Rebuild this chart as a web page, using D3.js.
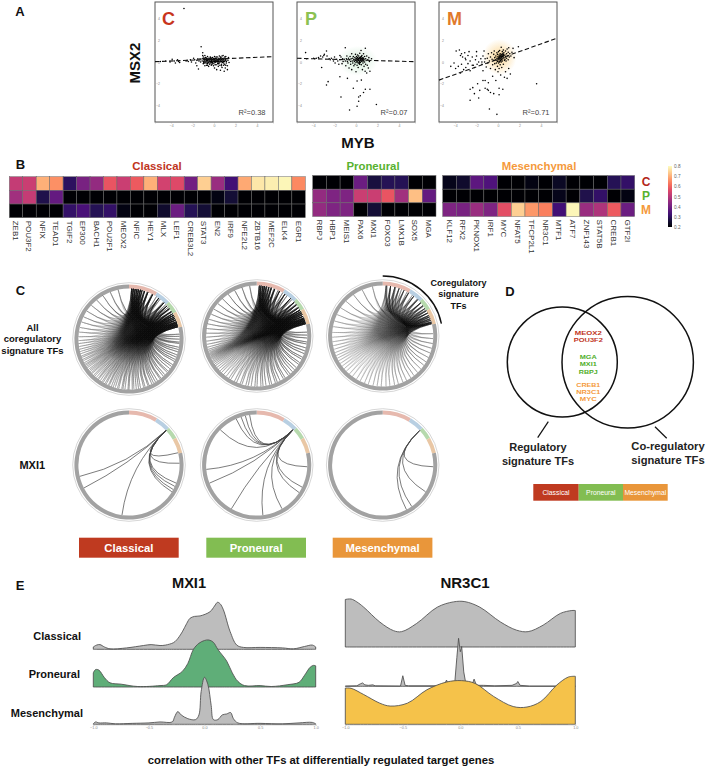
<!DOCTYPE html>
<html><head><meta charset="utf-8">
<style>html,body{margin:0;padding:0;background:#fff}svg{display:block;font-family:"Liberation Sans",Arial,sans-serif}</style>
<script src="https://cdn.jsdelivr.net/npm/d3@7/dist/d3.min.js"></script>
</head><body><div id="c"></div>
<script>
// ---------- Panel A data ----------
const cPoints=[[-2.8,4.9],[-5,.05],[-4.5,.1],[-4.1,.0],[-3.9,.25],[-3.7,.1],[-3.6,-.1],[-3.4,.2],[-3.3,.05],[-3.2,-.05],[-2.6,.1],[-2.5,.15],[-2.4,.05],[-2.2,.2],[-2.1,0],[-1.9,.35],[-1.8,.2],[-1.7,-.1],[-1.6,.15],[-1.6,-.35],[-1.5,.3],[-1.45,-.65],[-1.4,.1],[-1.3,.3],[-1.25,.0],[-1.2,1.4],[-1.05,.85],[-1.05,.6],[-1.1,.3],[-1.1,.1],[-1,-.15],[-1,.45],[-.95,.2],[-.95,-.05],[-.9,.35],[-.9,.1],[-.85,-.35],[-.85,.6],[-.8,.25],[-.8,0],[-.75,-.1],[-.75,.4],[-.7,.15],[-.7,-.3],[-.65,.3],[-.65,.05],[-.6,-.15],[-.6,.5],[-.55,.2],[-.5,0],[-.5,-.4],[-.45,.35],[-.45,.1],[-.4,-.2],[-.4,.25],[-.35,.05],[-.35,.45],[-.3,-.1],[-.3,.2],[-.25,.3],[-.25,-.3],[-.2,.1],[-.2,-.05],[-.15,.4],[-.15,.2],[-.1,-.15],[-.1,.05],[-.05,.3],[-.05,-.35],[0,.1],[0,.25],[0,-.1],[.05,.5],[.05,-.55],[.1,.15],[.1,-.05],[.15,.35],[.15,0],[.2,-.25],[.2,.2],[.25,.1],[.25,-.7],[.3,.45],[.3,0],[.35,-.15],[.35,.25],[.4,.05],[.4,-.4],[.45,.35],[.45,.15],[.5,-.1],[.5,.55],[.55,.2],[.55,-.3],[.6,.1],[.6,-.75],[.65,.4],[.65,0],[.7,.25],[.7,-.2],[.75,.55],[.75,-.5],[.8,.1],[.8,-.05],[.85,.35],[.85,.6],[.9,-.3],[.9,.2],[.95,.05],[.95,-.85],[1,.45],[1,-.2],[1.05,.2],[1.05,-.55],[1.1,.5],[1.15,.05],[1.15,-.1],[1.2,.3],[1.25,-.35],[1.25,-.7],[1.3,.15],[1.35,.4],[1.4,-.05],[-1,.3],[-.95,.05],[-.9,-.1],[-.85,.2],[-.8,.4],[-.75,.1],[-.7,.3],[-.65,-.1],[-.6,.15],[-.55,.35],[-.55,-.05],[-.5,.2],[-.45,-.1],[-.4,.1],[-.35,.3],[-.3,0],[-.25,.15],[-.25,.05],[-.2,.25],[-.15,-.05],[-.1,.2],[-.05,.1],[0,.35],[.05,.2],[.05,.05],[.1,.3],[.15,.1],[.2,.05],[.25,.3],[.3,.15],[.35,.05],[.4,.2],[.45,0],[.5,.25],[.55,.05],[.6,.3],[.65,.15],[.7,.05],[.75,.2],[.8,.3],[.85,.1],[.9,.05],[.95,.3],[1,.1],[1.05,.35],[1.1,.15],[-.2,-.2],[.1,-.25],[.4,-.15],[.7,-.35],[.9,-.1],[1.1,-.3],[-.6,-.3],[-.3,.4],[.2,.45],[.6,.45]];
const pPoints=[[-4.7,.86],[-4.6,.3],[-3.95,.35],[-3.85,.3],[-3.7,.35],[-3.5,.4],[-3.3,.55],[-3.2,-.5],[-3.1,.45],[-3,.6],[-2.95,.7],[-2.75,1],[-2.7,.55],[-2.5,.3],[-2.4,.2],[-2.3,.35],[-2.1,.1],[-2,.45],[-1.95,-.1],[-1.8,.25],[-1.7,.1],[-1.6,-.2],[-1.5,.6],[-1.5,.2],[-1.4,.45],[-1.3,-.15],[-1.25,.3],[-1.2,.05],[-1.1,.25],[-1,1.3],[-1,.1],[-.95,-.35],[-.9,.3],[-.85,.55],[-.8,.05],[-.75,-.1],[-.7,.35],[-.65,-.55],[-.6,.2],[-.55,.5],[-.5,.05],[-.5,-.2],[-.45,.3],[-.4,.75],[-.4,-.7],[-.35,.1],[-.3,.35],[-.3,-.1],[-.25,.5],[-.2,.2],[-.2,-.35],[-.15,.05],[-.1,.4],[-.1,-.2],[-.05,.7],[-.05,.15],[0,.3],[0,-.05],[0,-.9],[.05,.5],[.05,.1],[.1,.25],[.1,-.3],[.15,.65],[.15,0],[.2,.35],[.2,-.5],[.25,.15],[.25,.55],[.3,-.15],[.3,.3],[.35,.05],[.35,.8],[.4,.25],[.4,-.05],[.45,.45],[.45,.15],[.47,1.05],[.5,-.25],[.5,.35],[.55,.05],[.55,.6],[.6,.2],[.6,-.7],[.65,.4],[.65,-.1],[.7,.1],[.7,.75],[.75,-.4],[.75,.25],[.8,.5],[.8,0],[.87,1.26],[.85,-.85],[.9,.3],[.9,-.2],[.95,.15],[1,.55],[1,-1],[1.05,-.3],[1.1,.2],[1.15,-.55],[1.2,.4],[1.25,.05],[1.3,-.85],[1.45,.3],[-2.6,-1.8],[-2.75,-2.1],[-1.5,-1.35],[-.8,-1.5],[.1,-1.75],[.5,-1.66],[-.25,-2.4],[1.3,-2.5],[.87,-2.5],[.7,-2.8],[.4,-3.1],[.25,-3.2],[-1.4,-3.2],[.25,-3.6],[1.9,-3.9],[.1,-4.05],[-.6,-4.4],[.1,.1],[.2,.2],[.3,.1],[.25,.3],[.35,.4],[.4,.15],[.45,.3],[.5,.1],[.55,.25],[.6,.35],[.65,.15],[.7,.3],[.15,.4],[.2,-.1],[.3,-.05],[.4,.4],[.5,.5],[.35,-.2],[.15,.2],[.05,.35]];
const mPoints=[[3.6,-2],[-.1,-4.8],[-.8,-4.3],[-2.6,-3.5],[-1.8,-3.3],[-2.6,-2.5],[-2.35,-2.35],[-2.2,-2.9],[-1.9,-2],[-1.7,-2.6],[-1.4,-1.7],[-1.2,-1.7],[-1.2,-2.4],[-1,-2.5],[-.9,-2.6],[-.9,-1.9],[-.7,-2.8],[-.5,-1.3],[-.4,-2.9],[-.2,-1.7],[.1,-2.4],[.45,-2.5],[.1,-3],[-1.4,-.8],[-3.9,1],[-3.6,1.1],[-3.5,.6],[-3.4,.75],[-3.3,.45],[-3.1,.85],[-3,.2],[-2.8,.6],[-2.7,.95],[-2.6,.1],[-2.4,.45],[-2.3,-.3],[-2.1,.2],[-2,.55],[-1.95,-.2],[-1.8,0],[-1.6,.3],[-1.5,-.2],[-1.4,.55],[-1.3,1],[-1.25,0],[-1.2,.3],[-1.1,-.45],[-1,.35],[-.95,-.1],[-.9,.75],[-.8,.1],[-.7,.45],[-.7,-.6],[-.6,.85],[-.55,.25],[-.5,-.25],[-4.4,-.4],[-4.1,-.1],[-3.95,-.6],[-3.7,-.4],[-3.5,-1],[-3.4,-.2],[-3.2,-.7],[-3,-.5],[-2.8,-.15],[-2.6,-.8],[-2.4,-.3],[-2.2,-.5],[-.4,.7],[-.4,.15],[-.35,1],[-.3,.4],[-.3,-.15],[-.25,-.7],[-.2,.55],[-.2,.2],[-.15,-.1],[-.1,.85],[-.1,.35],[-.05,.05],[-.05,.7],[-.05,-.4],[0,.5],[0,.2],[0,-.9],[.05,.95],[.05,.35],[.05,-.1],[.1,.65],[.1,.2],[.1,-.6],[.15,.45],[.15,0],[.15,1.05],[.2,.3],[.2,.75],[.2,-.25],[.25,.55],[.25,.15],[.25,-1.2],[.3,1.35],[.3,.4],[.3,.0],[.35,.7],[.35,.25],[.35,-.5],[.4,.95],[.4,.5],[.4,.1],[.45,.75],[.45,.3],[.5,1.1],[.5,.55],[.5,-.2],[.55,.4],[.55,.85],[.6,.15],[.6,-1.4],[.65,.65],[.65,.25],[.7,1],[.7,.45],[.7,-.9],[.75,.1],[.8,.75],[.8,.35],[.85,1.2],[.85,-1.5],[.9,.55],[.95,.9],[.95,.2],[1,1.3],[1,-.6],[1.05,.45],[1.1,.75],[1.15,-1.1],[1.2,.55],[1.3,.9],[1.4,1.25],[1.5,.4],[1.9,1.4],[-1.5,.0],[-2,.95],[-3.05,.35],[.1,.4],[.15,.55],[.2,.45],[.25,.65],[.3,.55],[.35,.5],[.4,.65],[.45,.55],[.5,.7],[.55,.6],[.2,.1],[.3,.2],[0,.35],[.1,.05],[-.1,.15]];
const rSquared=["R²=0.38","R²=0.07","R²=0.71"];
const cLine=[[-5.5,.03],[5.5,.49]],pLine=[[-5.5,.34],[5.5,.03]],mLine=[[-5.5,-1.66],[5.5,2.18]];
// ---------- Panel B data ----------
const classicalTFs=["ZEB1","POU3F2","NFIX","TEAD1","TGIF2","EP300","BACH1","POU2F1","MEOX2","NFIC","HEY1","MLX","LEF1","CREB3L2","STAT3","EN2","IRF9","NFE2L2","ZBTB16","MEF2C","ELK4","EGR1"];
const classicalC=[.52,.53,.7,.66,.3,.41,.45,.58,.53,.59,.7,.54,.56,.4,.74,.46,.33,.69,.77,.78,.79,.65];
const classicalP=[.47,.52,.28,.38,.2,.2,.2,.2,.2,.2,.2,.2,.2,.2,.2,.22,.26,.2,.2,.2,.2,.2];
const classicalM=[.2,.2,.2,.2,.31,.34,.29,.31,.22,.2,.2,.25,.39,.29,.26,.2,.2,.2,.2,.2,.2,.2];
const proneuralTFs=["RBPJ","HBP1","MEIS1","PAX6","MXI1","FOXO3","LMX1B","SOX5","MGA"];
const proneuralC=[.2,.2,.2,.39,.27,.29,.29,.2,.2];
const proneuralP=[.45,.42,.42,.53,.53,.58,.47,.72,.38];
const proneuralM=[.45,.42,.42,.2,.26,.2,.2,.2,.2];
const mesenchymalTFs=["KLF12","RFX2","PKNOX1","IRF1","MYC","NFAT5","TFCP2L1","NR3C1","MTF1","ATF7","ZNF143","STAT5B","CREB1","GTF2I"];
const mesenchymalC=[.23,.25,.37,.35,.2,.2,.22,.2,.24,.2,.2,.2,.29,.31];
const mesenchymalP=[.2,.2,.2,.2,.2,.2,.2,.2,.23,.2,.28,.31,.2,.22];
const mesenchymalM=[.42,.41,.46,.42,.57,.74,.67,.64,.33,.79,.46,.49,.59,.39];
const colorTicks=[.2,.3,.4,.5,.6,.7,.8];
// ---------- Panel C data (angles in degrees, clockwise from 12 o'clock) ----------
const ringSegments=[[0,31,"#e6b9ae"],[31,47,"#b8cfe2"],[47,60,"#b6d9ad"],[60,77,"#e9c7a5"],[77,360,"#a2a2a2"]];
const hubC=[3,5,7,9,11,13,15,18,22,28,36,44,49,53,57,60,62,64,66,68,70,71,72,73,74,75,76];
const hubP=[3,5,7,9,11,14,17,21,27,34,42,48,52,56,59,61,63,65,67,69,70,71,72,73,74,75,76];
const hubM=[4,9,14,19,25,31,38,44,49,53,57,60,63,66,68,70,72,74,75,76];
const partnersC=[4,7,10,13,17,21,27,33,38,43,47,51,54,58,62,65,68,71,74,84.5,87,90.2,93.6,95.1,99.4,102,104.7,108.3,111,113.9,116.2,120.5,122.8,126,129.4,131.2,134.9,137.3,140.8,142.2,145.7,148.4,150.9,153.1,156.6,158,161.5,163.2,166.8,169.1,171.7,174.4,176.3,179.9,181.2,184.6,186.9,188.3,191.7,193.2,195.8,198.1,200.4,202.9,204.1,206.8,208.3,210.7,212.2,214.6,216.9,218.1,220.3,222.7,224.4,226.8,228.1,229.9,231.5,233.2,235.4,237.1,238.8,240.2,242.1,244.5,246.3,248.7,250.4,253.1,255.6,258.3,261.4,264.8,268.1,272.6,277.9,283.2,289.7,296,303.5,311.8,320.4,329,338.2,347.6];
const partnersP=[4,8,12,16,20,25,31,37,44,48,51,55,59,62,64,67,70,72,75,85.6,89,92.3,96.8,99.1,103.6,107.2,110.4,114.9,117.3,121.7,124.1,128.6,131.8,135,138.7,141.2,145.8,148.1,152.5,155.9,158.2,162.7,165.1,169.4,172.8,175.2,179.6,182.1,186.3,189.7,192.4,196.9,199.1,203.5,206.2,210.8,213.4,217.1,220.6,223.9,226.4,229.1,231.7,234.2,236.3,238.1,239.7,241.2,242.6,243.9,245.1,246.3,247.4,248.6,249.8,251.1,252.7,254.6,257.2,260.4,264.1,268.7,273.2,278.5,283.9,289.3,295.6,302.1,309.8,317.4,325.7,334.2,343.1,352];
const partnersM=[5,9,15,22,29,36,43,49,54,59,63,67,71,74,87.4,93,98.6,104.1,109.7,115.2,120.8,125.4,130.9,136.3,141.7,146.2,151.8,156.4,161.9,166.3,171.8,176.2,181.7,186.4,191.1,196.7,201.2,206.6,211.3,216.8,221.2,225.9,229.7,233.4,237.1,240.6,243.9,247.2,250.8,254.7,258.9,263.4,268.6,274.1,280.7,287.2,295.1,303.8,313.4,324.7,336.1,348.2];
const mxi1C=[76,88,111,115,119,122,188,243,257];
const mxi1P=[92,116,123,150,173,210,249,265,314,336,342,347,352];
const mxi1M=[92,122,145,152];
const mxi1Source=[47,46,47];
// ---------- Panel D data ----------
const classicalOverlap=["MEOX2","POU3F2"],proneuralOverlap=["MGA","MXI1","RBPJ"],mesenchymalOverlap=["CREB1","NR3C1","MYC"];
const overlapWidths={MEOX2:27,POU3F2:29,MGA:17,MXI1:17,RBPJ:19,CREB1:24,NR3C1:24,MYC:17};
// ---------- Panel E data [correlation, relative density] ----------
const mxi1Classical=[[-1,.05],[-.97,.09],[-.94,.1],[-.9,.05],[-.85,.01],[-.7,.03],[-.55,.08],[-.48,.1],[-.4,.08],[-.35,.09],[-.28,.14],[-.25,.2],[-.2,.37],[-.16,.55],[-.13,.66],[-.09,.7],[-.04,.71],[.05,.8],[.09,.92],[.117,1],[.14,.97],[.17,.84],[.23,.38],[.29,.09],[.35,.04],[.5,.04],[.7,.03],[.8,.01],[.9,.06],[.97,.09],[1,.05]];
const mxi1Proneural=[[-1,.3],[-.98,.37],[-.95,.36],[-.9,.2],[-.85,.09],[-.75,.06],[-.6,.01],[-.4,.03],[-.34,.05],[-.28,.2],[-.2,.33],[-.15,.5],[-.1,.8],[-.05,.93],[0,.99],[.04,1],[.08,.95],[.12,.8],[.2,.55],[.25,.3],[.3,.12],[.36,.03],[.5,.03],[.6,.01],[.75,.05],[.85,.1],[.9,.25],[.95,.42],[.98,.46],[1,.45]];
const mxi1Mesenchymal=[[-1,.01],[-.98,.05],[-.95,.03],[-.88,.03],[-.8,.01],[-.65,.02],[-.5,.03],[-.4,.05],[-.29,.05],[-.27,.15],[-.24,.27],[-.21,.2],[-.15,.12],[-.08,.1],[-.05,.2],[-.03,.7],[0,1],[.03,.85],[.06,.4],[.08,.1],[.12,.1],[.16,.2],[.2,.22],[.235,.25],[.26,.12],[.3,.03],[.5,.02],[.7,.01],[.85,.03],[.97,.04],[1,.01]];
const nr3c1Classical=[[-1,.99],[-.95,1],[-.9,.94],[-.84,.83],[-.7,.52],[-.58,.34],[-.51,.32],[-.38,.49],[-.2,.83],[-.06,.94],[.04,.945],[.17,.83],[.35,.52],[.49,.35],[.59,.32],[.72,.455],[.87,.7],[.97,.76],[1,.76]];
const nr3c1Proneural=[[-1,.005],[-.9,.01],[-.87,.05],[-.85,.07],[-.83,.03],[-.8,.02],[-.76,.03],[-.74,.01],[-.52,.005],[-.5,.22],[-.48,.02],[-.45,.01],[-.2,.01],[-.19,.03],[-.17,.01],[-.14,.02],[-.12,.13],[-.1,.02],[-.05,.02],[-.03,.6],[-.015,1],[0,.72],[.012,.83],[.03,.3],[.05,.03],[.1,.02],[.12,.15],[.14,.02],[.2,.02],[.3,.01],[.45,.02],[.49,.06],[.5,.1],[.52,.02],[.6,.005],[1,.005]];
const nr3c1Mesenchymal=[[-1,.755],[-.95,.75],[-.84,.62],[-.7,.44],[-.61,.38],[-.46,.44],[-.29,.72],[-.12,.88],[.01,.91],[.13,.85],[.29,.58],[.46,.37],[.58,.36],[.7,.475],[.84,.82],[.94,.985],[1,1]];
const ridgeTicks=[-1,-.5,0,.5,1];

const RED="#c0341d",GREEN="#57b22f",ORANGE="#f59a3c";
const svg=d3.select("#c").append("svg").attr("width",708).attr("height",769).attr("viewBox","0 0 708 769");
const defs=svg.append("defs");
const text=(s,x,y,size,o={})=>svg.append("text").attr("x",x).attr("y",y).attr("font-size",size).attr("font-weight",o.w||"bold").attr("fill",o.c||"#111").attr("text-anchor",o.a||"middle").text(s);

// Panel letters
[["A",20,16],["B",20.5,169],["C",20.5,295],["D",510,296],["E",20,590]].forEach(d=>text(d[0],d[1],d[2],13,{}));

// ---- A ----
function scatter(left,pts,line,letter,lc,rs,glow){
  const x=d3.scaleLinear([-5.5,5.5],[left,left+118]),y=d3.scaleLinear([-5.5,5.5],[122,2]);
  const g=svg.append("g");
  if(glow){
    const id="glow"+letter;
    const rg=defs.append("radialGradient").attr("id",id);
    rg.append("stop").attr("offset","0").attr("stop-color",glow).attr("stop-opacity",letter=="M"?.75:.65);
    rg.append("stop").attr("offset","1").attr("stop-color",glow).attr("stop-opacity",0);
    g.append("ellipse").attr("cx",x(.15)).attr("cy",y(letter=="M"?.45:.1)).attr("rx",letter=="M"?17:20).attr("ry",letter=="M"?18:15).attr("fill",`url(#${id})`);
  }
  g.append("rect").attr("x",left).attr("y",2).attr("width",118).attr("height",120).attr("fill","none").attr("stroke","#555").attr("stroke-width",1);
  const ax=g.append("g").attr("transform","translate(0,122)").call(d3.axisBottom(x).tickValues([-4,-2,0,2,4]).tickSize(1.5).tickPadding(1));
  ax.selectAll("text").attr("font-size",3.5).attr("fill","#888").attr("font-family","inherit");
  ax.selectAll("line,path").attr("stroke","#999").attr("stroke-width",.4);
  const ay=g.append("g").attr("transform",`translate(${left+6},0)`).call(d3.axisLeft(y).tickValues([-4,-2,0,2,4]).tickSize(0).tickPadding(1));
  ay.selectAll("text").attr("font-size",3.5).attr("fill","#888").attr("font-family","inherit");
  ay.select("path").remove();
  g.selectAll("circle.p").data(pts).join("circle").attr("class","p").attr("cx",d=>x(d[0])).attr("cy",d=>y(d[1])).attr("r",.78).attr("fill","#000");
  g.append("path").attr("d",d3.line().x(d=>x(d[0])).y(d=>y(d[1]))(line)).attr("stroke","#111").attr("stroke-width",1.1).attr("stroke-dasharray","4.5 2.5").attr("fill","none");
  text(letter,left+(letter=="M"?8:letter=="P"?8:7),25,18,{c:lc,a:"start"});
  text(rs,left+110.5,115,7.5,{c:"#444",a:"end",w:"normal"});
}
scatter(155,cPoints,cLine,"C","#c8351c",rSquared[0],null);
scatter(297,pPoints,pLine,"P","#8cc152",rSquared[1],"#bfe6c8");
scatter(439,mPoints,mLine,"M","#e07a2c",rSquared[2],"#fbc96e");
text("MYB",358,148,15,{});
svg.append("text").attr("transform","translate(140,63) rotate(-90)").attr("font-size",15).attr("font-weight","bold").attr("text-anchor","middle").attr("fill","#111").text("MSX2");

// ---- B ----
const magma=d3.scaleSequential(d3.interpolateMagma).domain([.2,.8]);
function heat(left,top,w,names,rows,title,tc,titleX){
  const x=d3.scaleBand().domain(names).range([left,left+w]);
  const y=d3.scaleBand().domain([0,1,2]).range([top,top+41]);
  rows.forEach((r,i)=>{
    svg.append("g").selectAll("rect").data(r).join("rect").attr("x",(d,j)=>x(names[j])).attr("y",y(i)).attr("width",x.bandwidth()).attr("height",y.bandwidth()).attr("fill",d=>magma(d)).attr("stroke","#6a6a6a").attr("stroke-width",.5);
  });
  svg.append("g").selectAll("text").data(names).join("text").attr("transform",d=>`translate(${x(d)+x.bandwidth()/2-3},${top+44}) rotate(90)`).attr("font-size",8).attr("fill","#333").text(d=>d);
  text(title,titleX,170,11.4,{c:tc});
}
heat(9.3,176.7,296,classicalTFs,[classicalC,classicalP,classicalM],"Classical",RED,157);
heat(312.7,175.5,123.3,proneuralTFs,[proneuralC,proneuralP,proneuralM],"Proneural",GREEN,373);
heat(442.7,175.5,192,mesenchymalTFs,[mesenchymalC,mesenchymalP,mesenchymalM],"Mesenchymal",ORANGE,539);
[["C",182,"#b3261a"],["P",196,GREEN],["M",210,ORANGE]].forEach(d=>text(d[0],646,d[1]+4,12,{c:d[2]}));
// colorbar
const cby=d3.scaleLinear([.2,.8],[227,166]);
const lg=defs.append("linearGradient").attr("id","mg").attr("x1",0).attr("x2",0).attr("y1",1).attr("y2",0);
d3.range(0,1.001,.1).forEach(t=>lg.append("stop").attr("offset",t).attr("stop-color",d3.interpolateMagma(t)));
svg.append("rect").attr("x",668).attr("y",166).attr("width",4).attr("height",61).attr("fill","url(#mg)");
const cba=svg.append("g").attr("transform","translate(672,0)").call(d3.axisRight(cby).tickValues(colorTicks).tickSize(0).tickPadding(2).tickFormat(d3.format(".1f")));
cba.select("path").remove();cba.selectAll("text").attr("font-size",4.7).attr("fill","#666").attr("font-family","inherit");

// ---- C ----
const RAD=Math.PI/180;
function polar(a,r){return [Math.sin(a*RAD)*r,-Math.cos(a*RAD)*r];}
function chordPath(a,b,r){const p=polar(a,r),q=polar(b,r),h=d3.path();h.moveTo(p[0],p[1]);h.quadraticCurveTo(0,0,q[0],q[1]);return h.toString();}
function ring(g){
  g.append("circle").attr("r",56.3).attr("fill","#fff").attr("stroke","#bbb").attr("stroke-width",.6);
  const arc=d3.arc().innerRadius(50.6).outerRadius(54.6);
  g.selectAll("path.seg").data(ringSegments).join("path").attr("class","seg").attr("d",d=>arc({startAngle:d[0]*RAD,endAngle:d[1]*RAD})).attr("fill",d=>d[2]);
}
const centersX=[129,256.7,382.7];
const hairs=[[339,hubC,partnersC,.085],[336,hubP,partnersP,.09],[336,hubM,partnersM,.09]];
hairs.forEach((h,i)=>{
  const g=svg.append("g").attr("transform",`translate(${centersX[i]},${h[0]})`);
  ring(g);
  const id="fade"+i,rg=defs.append("radialGradient").attr("id",id).attr("gradientUnits","userSpaceOnUse").attr("cx",8).attr("cy",-8).attr("r",60);
  rg.append("stop").attr("offset",.22).attr("stop-color","#000").attr("stop-opacity",h[3]);
  rg.append("stop").attr("offset",.6).attr("stop-color","#000").attr("stop-opacity",h[3]*.55);
  rg.append("stop").attr("offset",1).attr("stop-color","#000").attr("stop-opacity",h[3]*.3);
  g.append("g").selectAll("path").data(d3.cross(h[1],h[2])).join("path").attr("d",d=>chordPath(d[0],d[1],50.5)).attr("fill","none").attr("stroke",`url(#${id})`).attr("stroke-width",.6);
});
[mxi1C,mxi1P,mxi1M].forEach((t,i)=>{
  const g=svg.append("g").attr("transform",`translate(${centersX[i]},465)`);
  ring(g);
  g.selectAll("path.ch").data(t).join("path").attr("class","ch").attr("d",d=>chordPath(mxi1Source[i],d,50.5)).attr("fill","none").attr("stroke","#444").attr("stroke-width",.7);
});
svg.append("path").attr("transform",`translate(${centersX[2]},336)`).attr("d",d3.arc().innerRadius(60).outerRadius(60)({startAngle:0,endAngle:78*RAD})).attr("fill","none").attr("stroke","#111").attr("stroke-width",1.4);
["All","coregulatory","signature TFs"].forEach((s,i)=>text(s,32.5,331+i*11.4,9.5,{}));
text("MXI1",32.3,469,11,{});
["Coregulatory","signature","TFs"].forEach((s,i)=>text(s,458.5,286+i*11.4,9,{}));
[[79,"Classical","#bf3a20"],[206.3,"Proneural","#82bd52"],[332.7,"Mesenchymal","#e9963a"]].forEach(d=>{
  svg.append("rect").attr("x",d[0]).attr("y",537.7).attr("width",99.7).attr("height",20).attr("fill",d[2]);
  text(d[1],d[0]+49.85,552,11.3,{c:"#fff"});
});

// ---- D ----
[[562.3,362,55],[627.7,362.3,65.7]].forEach(d=>svg.append("circle").attr("cx",d[0]).attr("cy",d[1]).attr("r",d[2]).attr("fill","none").attr("stroke","#111").attr("stroke-width",1.5));
[[classicalOverlap,335.3,"#c0341d"],[proneuralOverlap,359.3,"#4fae2a"],[mesenchymalOverlap,386.6,ORANGE]].forEach(d=>{
  d[0].forEach((s,i)=>{
    text(s,588.3,d[1]+i*7.1,6.1,{c:d[2]}).attr("textLength",overlapWidths[s]).attr("lengthAdjust","spacingAndGlyphs");
  });
});
[[548.3,421.7,537.7,437.7],[655,426.7,666.7,438.3]].forEach(d=>svg.append("line").attr("x1",d[0]).attr("y1",d[1]).attr("x2",d[2]).attr("y2",d[3]).attr("stroke","#111").attr("stroke-width",1.2));
text("Regulatory",538,451,11,{c:"#222"});text("signature TFs",538,465,11,{c:"#222"});
text("Co-regulatory",668,449.5,11.2,{c:"#222"});text("signature TFs",668,463.5,11.2,{c:"#222"});
[[533.3,45.4,"Classical","#bf3a20"],[578.7,44.3,"Proneural","#82bd52"],[623,44.7,"Mesenchymal","#e9963a"]].forEach(d=>{
  svg.append("rect").attr("x",d[0]).attr("y",484).attr("width",d[1]).attr("height",16.7).attr("fill",d[3]);
  text(d[2],d[0]+d[1]/2,494.6,6.8,{c:"#fff",w:"normal"});
});

// ---- E ----
function ridges(x0,x1,series,title,titleX,ts){
  const x=d3.scaleLinear([-1,1],[x0,x1]);
  series.forEach(s=>{
    const y=d3.scaleLinear([0,1],[s.base,s.base-s.h]);
    const area=d3.area().x(d=>x(d[0])).y0(s.base).y1(d=>Math.min(s.base,y(d[1]))).curve(s.spiky?d3.curveLinear:d3.curveCatmullRom.alpha(.5));
    svg.append("path").attr("d",area(s.data)).attr("fill",s.fill).attr("stroke","#4d4d4d").attr("stroke-width",.85);
  });
  const ax=svg.append("g").attr("transform","translate(0,724.6)").call(d3.axisBottom(x).tickValues(ridgeTicks).tickSize(1.2).tickPadding(1).tickFormat(d3.format(".1f")));
  ax.selectAll("text").attr("font-size",3.8).attr("fill","#888").attr("font-family","inherit");
  ax.selectAll("path,line").attr("stroke","#aaa").attr("stroke-width",.4);
  text(title,titleX,587.5,ts,{});
}
ridges(93.3,315.7,[{data:mxi1Classical,base:649.3,h:47,fill:"#bdbdbd"},{data:mxi1Proneural,base:687,h:47,fill:"#5fae78"},{data:mxi1Mesenchymal,base:724.3,h:47,fill:"#bdbdbd"}],"MXI1",189,14.6);
ridges(345.3,575.3,[{data:nr3c1Classical,base:647,h:48,fill:"#bdbdbd"},{data:nr3c1Proneural,base:686.3,h:48,fill:"#bdbdbd",spiky:true},{data:nr3c1Mesenchymal,base:724.3,h:48,fill:"#f5c24a"}],"NR3C1",465,15);
[["Classical",81,639.5],["Proneural",80,678],["Mesenchymal",83,717]].forEach(d=>text(d[0],d[1],d[2],11,{a:"end"}));
text("correlation with other TFs at differentially regulated target genes",321,763.5,11.3,{});
</script></body></html>
